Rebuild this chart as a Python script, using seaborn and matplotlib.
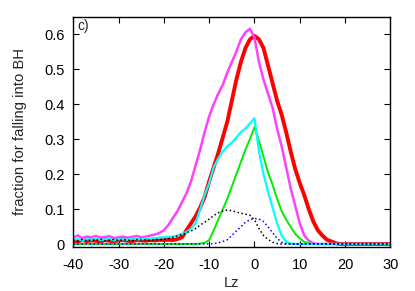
import numpy as np
import pandas as pd
import matplotlib
matplotlib.use('Agg')
import matplotlib.pyplot as plt
import seaborn as sns

# Lz values -40 .. 30
lz = list(range(-40, 31))

# values, one per integer Lz
magenta = [0.020, 0.025, 0.018, 0.022, 0.020, 0.024, 0.019, 0.021, 0.023, 0.018,
           0.020, 0.022, 0.019, 0.021, 0.024, 0.020, 0.022, 0.025, 0.028, 0.032,
           0.040, 0.055, 0.075, 0.095, 0.120, 0.146, 0.180, 0.225, 0.270, 0.320,
           0.365, 0.400, 0.430, 0.455, 0.490, 0.520, 0.550, 0.585, 0.605, 0.615,
           0.590, 0.520, 0.470, 0.430, 0.390, 0.330, 0.280, 0.220, 0.160, 0.110,
           0.060, 0.025, 0.010, 0.003, 0.001, 0.001, 0.001, 0.001, 0.001, 0.001,
           0.001, 0.001, 0.001, 0.001, 0.001, 0.001, 0.001, 0.001, 0.001, 0.001, 0.001]
red = [0.010, 0.008, 0.012, 0.009, 0.011, 0.010, 0.008, 0.012, 0.010, 0.009,
       0.011, 0.012, 0.010, 0.009, 0.012, 0.011, 0.010, 0.012, 0.011, 0.013,
       0.012, 0.013, 0.012, 0.015, 0.020, 0.040, 0.060, 0.080, 0.105, 0.135,
       0.180, 0.220, 0.260, 0.305, 0.350, 0.410, 0.470, 0.520, 0.560, 0.585,
       0.595, 0.585, 0.560, 0.510, 0.460, 0.410, 0.370, 0.320, 0.265, 0.215,
       0.175, 0.140, 0.100, 0.065, 0.040, 0.025, 0.013, 0.008, 0.003, 0.001,
       0.001, 0.001, 0.001, 0.001, 0.001, 0.001, 0.001, 0.001, 0.001, 0.001, 0.001]
cyan = [0.012, 0.016, 0.010, 0.015, 0.013, 0.017, 0.012, 0.014, 0.016, 0.011,
        0.015, 0.014, 0.013, 0.016, 0.015, 0.014, 0.017, 0.016, 0.018, 0.019,
        0.020, 0.021, 0.022, 0.025, 0.030, 0.035, 0.045, 0.060, 0.100, 0.140,
        0.175, 0.220, 0.245, 0.265, 0.280, 0.290, 0.305, 0.320, 0.330, 0.345,
        0.360, 0.265, 0.200, 0.150, 0.105, 0.060, 0.025, 0.008, 0.002, 0.001,
        0.001, 0.001, 0.001, 0.001, 0.001, 0.001, 0.001, 0.001, 0.001, 0.001,
        0.001, 0.001, 0.001, 0.001, 0.001, 0.001, 0.001, 0.001, 0.001, 0.001, 0.001]
green = [0.001, 0.001, 0.001, 0.001, 0.001, 0.001, 0.001, 0.001, 0.001, 0.001,
         0.001, 0.001, 0.001, 0.001, 0.001, 0.001, 0.001, 0.001, 0.001, 0.001,
         0.001, 0.001, 0.001, 0.001, 0.001, 0.001, 0.001, 0.001, 0.002, 0.004,
         0.012, 0.040, 0.070, 0.100, 0.130, 0.165, 0.200, 0.235, 0.270, 0.300,
         0.335, 0.295, 0.250, 0.205, 0.170, 0.130, 0.095, 0.070, 0.050, 0.030,
         0.017, 0.007, 0.003, 0.001, 0.001, 0.001, 0.001, 0.001, 0.001, 0.001,
         0.001, 0.001, 0.001, 0.001, 0.001, 0.001, 0.001, 0.001, 0.001, 0.001, 0.001]
black = [0.012, 0.009, 0.014, 0.010, 0.013, 0.011, 0.015, 0.010, 0.012, 0.014,
         0.011, 0.013, 0.012, 0.010, 0.014, 0.012, 0.013, 0.011, 0.014, 0.013,
         0.014, 0.016, 0.020, 0.024, 0.028, 0.033, 0.038, 0.045, 0.055, 0.063,
         0.072, 0.082, 0.090, 0.095, 0.098, 0.096, 0.092, 0.089, 0.086, 0.083,
         0.070, 0.045, 0.025, 0.014, 0.006, 0.002, 0.001, 0.001, 0.001, 0.001,
         0.001, 0.001, 0.001, 0.001, 0.001, 0.001, 0.001, 0.001, 0.001, 0.001,
         0.001, 0.001, 0.001, 0.001, 0.001, 0.001, 0.001, 0.001, 0.001, 0.001, 0.001]
blue = [0.001, 0.001, 0.001, 0.001, 0.001, 0.001, 0.001, 0.001, 0.001, 0.001,
        0.001, 0.001, 0.001, 0.001, 0.001, 0.001, 0.001, 0.001, 0.001, 0.001,
        0.001, 0.001, 0.001, 0.001, 0.001, 0.001, 0.001, 0.001, 0.001, 0.001,
        0.001, 0.002, 0.004, 0.008, 0.013, 0.025, 0.038, 0.050, 0.063, 0.070,
        0.074, 0.072, 0.065, 0.050, 0.033, 0.017, 0.006, 0.002, 0.001, 0.001,
        0.001, 0.001, 0.001, 0.001, 0.001, 0.001, 0.001, 0.001, 0.001, 0.001,
        0.001, 0.001, 0.001, 0.001, 0.001, 0.001, 0.001, 0.001, 0.001, 0.001, 0.001]

sns.set_style('ticks')
plt.rcParams['font.family'] = ['Liberation Sans', 'DejaVu Sans']
plt.rcParams['axes.unicode_minus'] = False

fig = plt.figure(figsize=(4.15, 2.91), dpi=100)
ax = fig.add_axes([0.1766, 0.152, 0.764, 0.791])

# series, colour, width, style
series = [(red, '#ff0000', 2.8, '-'),
          (magenta, '#ff40ff', 1.8, '-'),
          (green, '#00ee00', 1.4, '-'),
          (cyan, '#00ffff', 1.6, '-'),
          (blue, '#0000ff', 1.1, ':'),
          (black, '#000000', 1.1, ':')]
for vals, col, lw, ls in series:
    sns.lineplot(x=lz, y=vals, ax=ax, color=col, linewidth=lw, linestyle=ls)

ax.set_xlim(-40, 30)
ax.set_ylim(-0.007, 0.65)
ax.set_xticks(range(-40, 31, 10))
ax.set_yticks([0, 0.1, 0.2, 0.3, 0.4, 0.5, 0.6])
ax.set_yticklabels(['0', '0.1', '0.2', '0.3', '0.4', '0.5', '0.6'])
ax.tick_params(direction='in', top=True, right=True, length=4, width=0.8,
               labelsize=10.5, colors='black')
ax.tick_params(axis='x', pad=8)
ax.tick_params(axis='y', pad=6)
for s in ax.spines.values():
    s.set_color('black')
    s.set_linewidth(1.0)
ax.set_xlabel('Lz', fontsize=10.5, labelpad=3)
ax.set_ylabel('fraction for falling into BH', fontsize=10.7, labelpad=13)
ax.text(0.012, 0.99, 'c)', transform=ax.transAxes, fontsize=10, va='top', ha='left')

fig.savefig('out.png', dpi=100)
